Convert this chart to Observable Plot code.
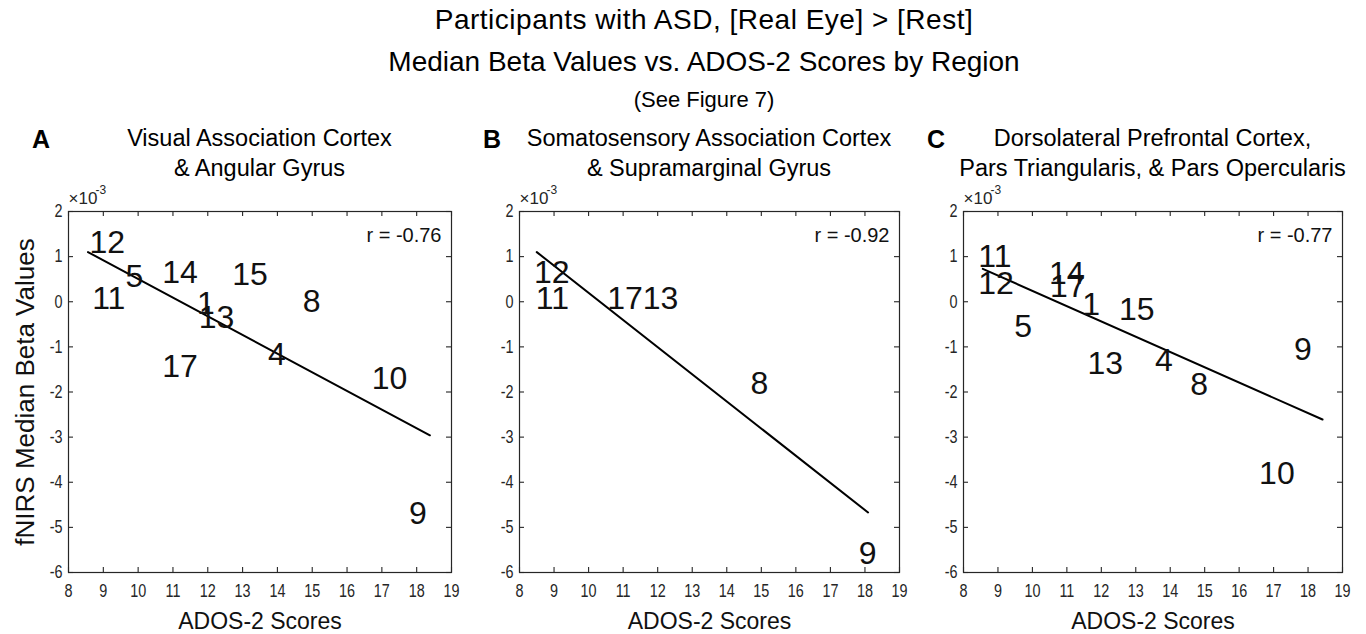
<!DOCTYPE html>
<html>
<head>
<meta charset="utf-8">
<script src="https://cdn.jsdelivr.net/npm/d3@7"></script>
<script src="https://cdn.jsdelivr.net/npm/@observablehq/plot@0.6"></script>
<style>
  body { margin: 0; background: #fff; }
  #fig { position: relative; width: 1366px; height: 634px; overflow: hidden;
         font-family: "Liberation Sans", Arial, Helvetica, sans-serif; color: #000; }
  .t { position: absolute; white-space: nowrap; }
  .p { position: absolute; top: 190px; }
</style>
</head>
<body>
<div id="fig"></div>
<script>
// ---------- data (beta values in units of 10^-3) ----------
const xTicks = [8, 9, 10, 11, 12, 13, 14, 15, 16, 17, 18, 19];
const yTicks = [-6, -5, -4, -3, -2, -1, 0, 1, 2];

const titleLines = ["Participants with ASD, [Real Eye] > [Rest]",
                    "Median Beta Values vs. ADOS-2 Scores by Region",
                    "(See Figure 7)"];
const panelLetters = ["A", "B", "C"];
const panelTitles = [["Visual Association Cortex", "& Angular Gyrus"],
                     ["Somatosensory Association Cortex", "& Supramarginal Gyrus"],
                     ["Dorsolateral Prefrontal Cortex,", "Pars Triangularis, & Pars Opercularis"]];
const rLabels = ["r = -0.76", "r = -0.92", "r = -0.77"];
const xLabel = "ADOS-2 Scores";
const yLabel = "fNIRS Median Beta Values";

// Panel A
const subjectsA = ["12", "5", "14", "15", "11", "8", "1", "13", "17", "4", "10", "9"];
const scoresA   = [8.60, 9.64, 10.69, 12.70, 8.68, 14.73, 11.69, 11.74, 10.69, 13.73, 16.71, 17.78];
const betasA    = [1.31, 0.55, 0.64, 0.59, 0.07, 0.00, -0.04, -0.35, -1.45, -1.17, -1.70, -4.70];
const fitXA = [8.56, 18.38];
const fitYA = [1.10, -2.96];

// Panel B
const subjectsB = ["12", "11", "17", "13", "8", "9"];
const scoresB   = [8.42, 8.47, 10.54, 11.57, 14.69, 17.82];
const betasB    = [0.64, 0.07, 0.07, 0.07, -1.81, -5.59];
const fitXB = [8.50, 18.09];
const fitYB = [1.10, -4.67];

// Panel C
const subjectsC = ["11", "12", "14", "17", "1", "15", "5", "13", "4", "8", "9", "10"];
const scoresC   = [8.43, 8.43, 10.48, 10.51, 11.45, 12.51, 9.47, 11.60, 13.56, 14.58, 17.59, 16.58];
const betasC    = [1.00, 0.40, 0.62, 0.34, -0.06, -0.17, -0.56, -1.37, -1.31, -1.83, -1.07, -3.81];
const fitXC = [8.56, 18.42];
const fitYC = [0.73, -2.61];

// ---------- layout ----------
const fig = document.getElementById("fig");
const SANS = '"Liberation Sans", Arial, Helvetica, sans-serif';
const TICK = 5;      // inward tick length, px
const FH = 361;      // frame height, px

function addText(txt, cx, baseline, size, opts = {}) {
  const d = document.createElement("div");
  d.className = "t";
  d.textContent = txt;
  d.style.fontSize = size + "px";
  d.style.lineHeight = size + "px";
  d.style.top = (baseline - 0.8465 * size) + "px";
  if (opts.left) {
    d.style.left = cx + "px";
  } else {
    d.style.left = (cx - 400) + "px";
    d.style.width = "800px";
    d.style.textAlign = "center";
  }
  if (opts.bold) d.style.fontWeight = "bold";
  if (opts.spacing) d.style.letterSpacing = opts.spacing + "px";
  fig.appendChild(d);
}

// horizontally condense glyphs (the source uses a narrow face for tick labels)
function condense(svg, label, k) {
  svg.querySelectorAll(`g[aria-label="${label}"] text`).forEach(t => {
    const L = t.getComputedTextLength();
    if (L > 0) {
      t.setAttribute("textLength", (L * k).toFixed(2));
      t.setAttribute("lengthAdjust", "spacingAndGlyphs");
    }
  });
}

addText(titleLines[0], 704, 29.5, 28, {spacing: 0.5});
addText(titleLines[1], 704, 71.5, 28);
addText(titleLines[2], 704, 107.5, 22);

const panels = [
  {left: 0,   ml: 68, fw: 383, s: subjectsA, x: scoresA, y: betasA, fx: fitXA, fy: fitYA, yl: true,  letterX: 32},
  {left: 460, ml: 59, fw: 380, s: subjectsB, x: scoresB, y: betasB, fx: fitXB, fy: fitYB, yl: false, letterX: 483},
  {left: 910, ml: 53, fw: 379, s: subjectsC, x: scoresC, y: betasC, fx: fitXC, fy: fitYC, yl: false, letterX: 927}
];

panels.forEach((p, i) => {
  const cx = p.left + p.ml + p.fw / 2;
  addText(panelLetters[i], p.letterX, 148.5, 25, {left: true, bold: true});
  addText(panelTitles[i][0], cx, 146.7, 23.5);
  addText(panelTitles[i][1], cx, 176.7, 23.5);

  const pts = p.s.map((s, k) => ({s, x: p.x[k], y: p.y[k]}));
  const fit = p.fx.map((x, k) => ({x, y: p.fy[k]}));
  const fmt = d => String(d);
  const tickStyle = {stroke: "#262626", strokeWidth: 1.1};

  const marks = [
    Plot.frame({stroke: "#262626", strokeWidth: 1.2}),
    // inward ticks on all four sides (MATLAB box style)
    Plot.ruleX(xTicks, {x: d => d, insetTop: FH - TICK, ...tickStyle}),
    Plot.ruleX(xTicks, {x: d => d, insetBottom: FH - TICK, ...tickStyle}),
    Plot.ruleY(yTicks, {y: d => d, insetRight: p.fw - TICK, ...tickStyle}),
    Plot.ruleY(yTicks, {y: d => d, insetLeft: p.fw - TICK, ...tickStyle}),
    Plot.axisX(xTicks, {anchor: "bottom", tickSize: 0, tickPadding: 12, tickFormat: fmt, label: null,
                        fontSize: 18, fontFamily: SANS, fill: "#262626"}),
    Plot.axisY(yTicks, {anchor: "left", tickSize: 0, tickPadding: 6, tickFormat: fmt, label: null,
                        fontSize: 18, fontFamily: SANS, fill: "#262626"}),
    Plot.line(fit, {x: "x", y: "y", stroke: "#000", strokeWidth: 2}),
    Plot.text(pts, {x: "x", y: "y", text: "s", textAnchor: "start", lineAnchor: "middle",
                    fontSize: 32, fontFamily: SANS, fill: "#111", ariaLabel: "subject"}),
    Plot.text([rLabels[i]], {text: d => d, frameAnchor: "top-right", textAnchor: "end", lineAnchor: "middle",
                             dx: -10, dy: 24, fontSize: 20, fontFamily: SANS, fill: "#111"}),
    Plot.text(["×10"], {text: d => d, frameAnchor: "top-left", textAnchor: "start", lineAnchor: "bottom",
                        dy: -8, fontSize: 17, fontFamily: SANS, fill: "#262626", ariaLabel: "exponent base"}),
    Plot.text(["-3"], {text: d => d, frameAnchor: "top-left", textAnchor: "start", lineAnchor: "bottom",
                       dx: 27, dy: -18, fontSize: 12, fontFamily: SANS, fill: "#262626", ariaLabel: "exponent"}),
    Plot.text([xLabel], {text: d => d, frameAnchor: "bottom", textAnchor: "middle", lineAnchor: "top",
                         dy: 40.5, fontSize: 23, fontFamily: SANS, fill: "#111"})
  ];
  if (p.yl) {
    marks.push(Plot.text([yLabel], {text: d => d, frameAnchor: "left", rotate: -90, textAnchor: "middle",
                                    lineAnchor: "middle", dx: -43, fontSize: 26, fontFamily: SANS, fill: "#111"}));
  }

  const chart = Plot.plot({
    width: p.ml + p.fw + 10,
    height: 444,
    marginLeft: p.ml, marginRight: 10, marginTop: 21, marginBottom: 62,
    x: {domain: [8, 19], label: null},
    y: {domain: [-6, 2], label: null},
    style: {fontFamily: SANS, background: "transparent", overflow: "visible"},
    marks
  });
  const wrap = document.createElement("div");
  wrap.className = "p";
  wrap.style.left = p.left + "px";
  wrap.appendChild(chart);
  fig.appendChild(wrap);
  condense(chart, "x-axis tick label", 0.8);
  condense(chart, "y-axis tick label", 0.8);
  condense(chart, "exponent base", 0.85);
  condense(chart, "exponent", 0.85);
  condense(chart, "subject", 0.95);
});
</script>
</body>
</html>
